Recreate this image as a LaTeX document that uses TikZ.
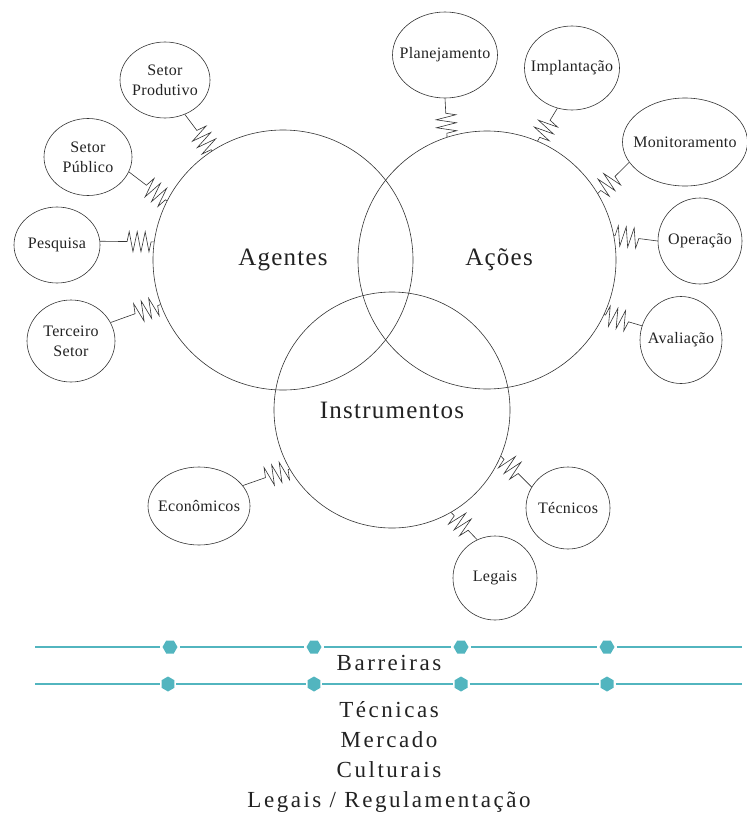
\documentclass[tikz,border=0pt]{standalone}
\usepackage{fontspec}
\setmainfont{Liberation Serif}
\usepackage{tikz}
\usetikzlibrary{shapes.geometric,decorations.pathmorphing}
\definecolor{ink}{HTML}{333333}
\definecolor{letra}{HTML}{222222}
\definecolor{barra}{HTML}{52B5BF}
\newcommand{\fgrande}{\fontsize{25}{29}\selectfont\addfontfeature{LetterSpace=5}}
\newcommand{\fbolha}{\fontsize{16}{20}\selectfont\addfontfeature{LetterSpace=2}}
\newcommand{\fbaixo}{\fontsize{23}{30}\selectfont\addfontfeature{LetterSpace=11}}

\begin{document}
\begin{tikzpicture}[
  x=1pt, y=-1pt,
  grande/.style={draw=ink, line width=0.6pt, circle, minimum size=#1, inner sep=0pt, font=\fgrande, text=letra},
  bolha/.style 2 args={draw=ink, line width=0.6pt, ellipse, minimum width=#1, minimum height=#2, inner xsep=-14pt, inner ysep=0pt, align=center, font=\fbolha, text=letra},
  mola/.style={draw=ink, line width=0.6pt, decorate, decoration={zigzag, segment length=8pt, amplitude=10pt, pre length=#1, post length=1pt}},
  marca/.style={regular polygon, regular polygon sides=6, fill=barra, minimum size=15pt, inner sep=0pt, outer sep=2pt},
  linha/.style={draw=barra, line width=1.3pt},
  texto/.style={font=\fbaixo, text=letra, align=center}
]
\useasboundingbox (0,0) rectangle (747,814);

% os tres conjuntos
\node[grande=260pt] (ag) at (283,260) {Agentes};
\node[grande=258pt] (ac) at (487,260) {\hspace*{24pt}Ações};
\node[grande=236pt] (in) at (392,410) {Instrumentos};

% agentes
\node[bolha={90pt}{76pt}] (sp) at (165,80) {Setor\\Produtivo};
\node[bolha={88pt}{77pt}] (spu) at (88,157) {Setor\\Público};
\node[bolha={86pt}{76pt}] (pq) at (57,245) {Pesquisa};
\node[bolha={88pt}{82pt}] (ts) at (71,341) {Terceiro\\Setor};

% acoes
\node[bolha={105pt}{86pt}] (pl) at (445,55) {Planejamento};
\node[bolha={95pt}{84pt}] (im) at (572,68) {Implantação};
\node[bolha={125pt}{88pt}] (mo) at (685,142) {Monitoramento};
\node[bolha={84pt}{86pt}] (op) at (700,241) {Operação};
\node[bolha={82pt}{87pt}] (av) at (681,340) {Avaliação};

% instrumentos
\node[bolha={102pt}{78pt}] (ec) at (199,506) {Econômicos};
\node[bolha={84pt}{82pt}] (tc) at (568,508) {Técnicos};
\node[bolha={84pt}{84pt}] (lg) at (495,578) {Legais};

\draw[mola=20pt] (sp.-60) -- (ag.123);
\draw[mola=22pt] (spu.-20) -- (ag.153);
\draw[mola=27pt] (pq.5) -- (ag.172);
\draw[mola=26pt] (ts.25) -- (ag.200);
\draw[mola=15pt] (pl.-90) -- (ac.108);
\draw[mola=14pt] (im.-110) -- (ac.67);
\draw[mola=20pt] (mo.200) -- (ac.31);
\draw[mola=19pt] (op.180) -- (ac.11);
\draw[mola=14pt] (av.160) -- (ac.-25);
\draw[mola=24pt] (ec.25) -- (in.210);
\draw[mola=19pt] (tc.150) -- (in.-23);
\draw[mola=13pt] (lg.115) -- (in.-60);

% barreiras
\coordinate (a0) at (35,647);
\coordinate (a5) at (742,647);
\node[marca] (a1) at (170,647) {};
\node[marca] (a2) at (314,647) {};
\node[marca] (a3) at (461,647) {};
\node[marca] (a4) at (607,647) {};
\draw[linha] (a0) -- (a1) -- (a2) -- (a3) -- (a4) -- (a5);

\coordinate (b0) at (35,684);
\coordinate (b5) at (742,684);
\node[marca, shape border rotate=90] (b1) at (168,684) {};
\node[marca, shape border rotate=90] (b2) at (314,684) {};
\node[marca, shape border rotate=90] (b3) at (461,684) {};
\node[marca, shape border rotate=90] (b4) at (607,684) {};
\draw[linha] (b0) -- (b1) -- (b2) -- (b3) -- (b4) -- (b5);

\node[texto] (bar) at (389,663) {Barreiras};
\node[texto] (tipos) at (389,757) {Técnicas\\Mercado\\Culturais\\Legais / Regulamentação};
\end{tikzpicture}
\end{document}
